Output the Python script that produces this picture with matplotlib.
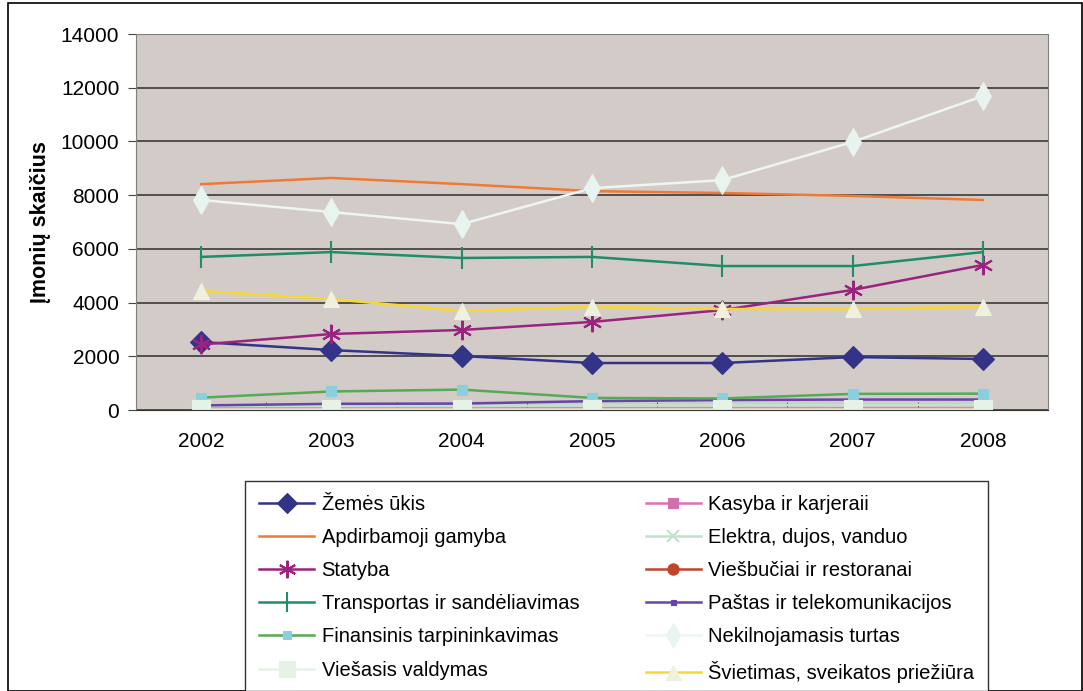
import numpy as np
import matplotlib.pyplot as plt
from matplotlib.patches import Rectangle

plt.rcParams['font.family'] = ['Liberation Sans', 'DejaVu Sans']

# Duomenys
metai = ['2002', '2003', '2004', '2005', '2006', '2007', '2008']
zemes_ukis = [2530, 2230, 2010, 1750, 1750, 1970, 1900]
kasyba = [70, 70, 70, 70, 70, 70, 70]
apdirbamoji = [8410, 8640, 8410, 8150, 8080, 7970, 7820]
elektra = [150, 150, 150, 170, 180, 190, 200]
statyba = [2440, 2830, 2980, 3280, 3720, 4470, 5400]
viesbuciai = [40, 40, 40, 40, 40, 40, 40]
transportas = [5700, 5880, 5660, 5700, 5360, 5360, 5880]
pastas = [170, 230, 240, 330, 370, 390, 390]
finansinis = [460, 690, 760, 450, 430, 600, 610]
nekilnojamasis = [7820, 7370, 6920, 8260, 8560, 9980, 11690]
viesasis = [40, 40, 40, 40, 40, 40, 40]
svietimas = [4430, 4130, 3690, 3840, 3760, 3760, 3840]

serijos = [
    ('Žemės ūkis', zemes_ukis, '#333388', 'D', '#333388', 11),
    ('Kasyba ir karjeraii', kasyba, '#E070B0', 's', '#D070B0', 8),
    ('Apdirbamoji gamyba', apdirbamoji, '#F07A35', None, None, 0),
    ('Elektra, dujos, vanduo', elektra, '#BFE3CC', 'x', '#BFE3CC', 9),
    ('Statyba', statyba, '#99237F', (6, 2, 0), '#99237F', 14),
    ('Viešbučiai ir restoranai', viesbuciai, '#C0452A', 'o', '#C0452A', 9),
    ('Transportas ir sandėliavimas', transportas, '#1F8C6A', '|', '#1F8C6A', 16),
    ('Paštas ir telekomunikacijos', pastas, '#6644AA', 's', '#6644AA', 4),
    ('Finansinis tarpininkavimas', finansinis, '#55AA55', 's', '#8CCFDC', 7),
    ('Nekilnojamasis turtas', nekilnojamasis, '#EEF6F2', 'd', '#E8F4F0', 14),
    ('Viešasis valdymas', viesasis, '#E6F2E6', 's', '#E6F2E6', 13),
    ('Švietimas, sveikatos priežiūra', svietimas, '#F8D830', '^', '#EEF2DC', 12),
]

fig = plt.figure(figsize=(10.83, 6.91), dpi=100)
fig.patches.append(Rectangle((8 / 1083, 0), 1074 / 1083, 688 / 691, transform=fig.transFigure,
                             fill=False, edgecolor='black', linewidth=1.2))
ax = fig.add_axes([136 / 1083, 1 - 410 / 691, 912 / 1083, 376 / 691])
ax.set_facecolor('#D3CBC8')

x = np.arange(len(metai))
linijos = []
for pav, y, spalva, zym, zspalva, dydis in serijos:
    if zym is None:
        ln, = ax.plot(x, y, color=spalva, lw=1.8, label=pav)
    else:
        mew = 1.5 if zym in ('x', '|', (6, 2, 0)) else 0.8
        ln, = ax.plot(x, y, color=spalva, lw=1.8, marker=zym, markersize=dydis,
                      markerfacecolor=zspalva, markeredgecolor=zspalva, markeredgewidth=mew, label=pav)
    linijos.append(ln)

ax.set_xlim(-0.5, 6.5)
ax.set_ylim(0, 14000)
ax.set_yticks(np.arange(0, 14001, 2000))
ax.yaxis.grid(True, color='#3A3A3A', lw=1.2)
ax.set_axisbelow(True)
ax.set_xticks(x)
ax.set_xticklabels(metai)
ax.set_xticks(np.arange(0.5, 6.5, 1), minor=True)
ax.tick_params(axis='x', which='major', length=0, labelsize=15, pad=16)
ax.tick_params(axis='x', which='minor', length=6, color='#444444', direction='in')
ax.tick_params(axis='y', length=6, direction='out', color='#444444', labelsize=15, pad=6)
for s in ax.spines.values():
    s.set_color('#808080')
ax.spines['bottom'].set_color('#333333')
ax.set_ylabel('Įmonių skaičius', fontsize=15.5, fontweight='bold', labelpad=7)

# legenda eilutėmis kaip Excel'yje
tvarka = list(range(0, 12, 2)) + list(range(1, 12, 2))
fig.legend([linijos[i] for i in tvarka], [serijos[i][0] for i in tvarka],
           loc='upper left', bbox_to_anchor=(245 / 1083, 1 - 481 / 691), ncol=2,
           fontsize=14.5, frameon=True, fancybox=False, edgecolor='black',
           handlelength=2.75, columnspacing=3.3, labelspacing=0.7, borderpad=0.7,
           borderaxespad=0, handletextpad=0.35, markerscale=0.9)

fig.savefig('out.png', dpi=100)
